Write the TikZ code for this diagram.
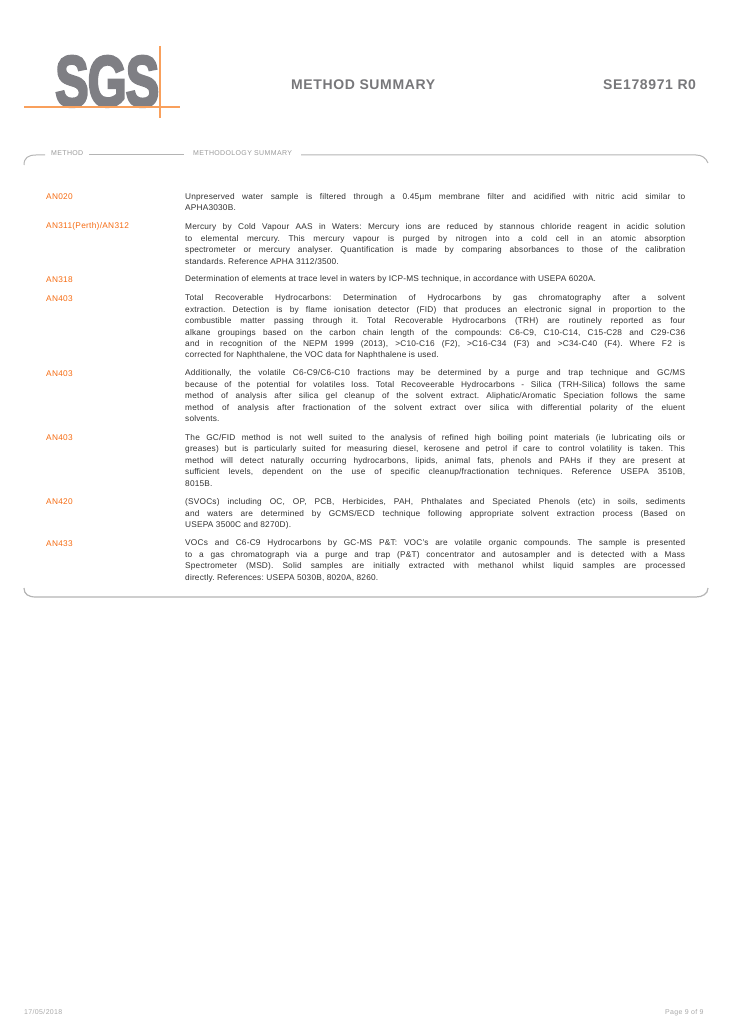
\documentclass[tikz,border=0pt]{standalone}
\usepackage{fontspec}
\usepackage{graphicx}
\setmainfont{Liberation Sans}[LetterSpace=2.3]
\newfontfamily\logofont[FakeBold=4,LetterSpace=-2]{Liberation Sans Bold}
\newfontfamily\headfont[LetterSpace=4.5]{Liberation Sans Bold}
\newfontfamily\codefont[LetterSpace=3.5]{Liberation Sans}
\newfontfamily\smallfont[LetterSpace=5]{Liberation Sans}
\definecolor{sgsorange}{HTML}{F56A10}
\definecolor{logoline}{HTML}{F9A05C}
\definecolor{sgsgray}{HTML}{7F7F84}
\definecolor{headgray}{HTML}{77777A}
\definecolor{framegray}{HTML}{B4B4B4}
\definecolor{labelgray}{HTML}{9A9A9A}
\definecolor{footgray}{HTML}{A8A8A8}
\definecolor{bodytext}{HTML}{303030}
\tikzset{
  code/.style={anchor=base west,inner sep=0pt,text=sgsorange,font=\fontsize{8.3}{9}\codefont},
  para/.style={anchor=north west,inner sep=0pt,text=bodytext,text width=500pt,align=justify,
    font=\fontsize{8.3}{11.45}\selectfont\frenchspacing},
  heading/.style={anchor=base west,inner sep=0pt,text=headgray,font=\fontsize{14}{16}\headfont},
  framelabel/.style={anchor=base west,inner sep=0pt,text=labelgray,font=\fontsize{7}{8}\smallfont},
  foot/.style={anchor=base west,inner sep=0pt,text=footgray,font=\fontsize{7}{8}\smallfont},
  frameline/.style={draw=framegray,line width=1pt},
  logorule/.style={draw=logoline,line width=1.2pt},
  logoruleh/.style={draw=logoline,line width=2pt}
}
\begin{document}
\begin{tikzpicture}[x=1pt,y=-1pt]
\useasboundingbox (0,0) rectangle (730,1032);
% logo
\node[anchor=south west,inner sep=0pt,text=sgsgray] (logo) at (55,107)
  {\resizebox{104pt}{50pt}{\logofont SGS}};
\coordinate (hl) at (24,107.5); \coordinate (hr) at (180,107.5);
\coordinate (vt) at (160,46); \coordinate (vb) at (160,118);
\draw[logoruleh] (hl) -- (hr);
\draw[logorule] (vt) -- (vb);
% headings
\node[heading] (title) at (291,90) {METHOD SUMMARY};
\node[heading] (ref) at (603,90) {SE178971 R0};
% frame
\node[framelabel] (lm) at (51,155.5) {METHOD};
\node[framelabel] (ls) at (193,155.5) {METHODOLOGY SUMMARY};
\coordinate (tl) at (24,165); \coordinate (tr) at (708,163);
\coordinate (bl) at (24,588); \coordinate (br) at (708,588);
\draw[frameline] (tl) .. controls (24,158) and (28,155) .. (36,155) -- (45,155);
\draw[frameline] (89,155) -- (184,155);
\draw[frameline] (301,155) -- (696,155) .. controls (702,155) and (706,158) .. (tr);
\draw[frameline,line width=1.2pt] (bl) .. controls (24,594) and (28,597) .. (36,597) -- (696,597) .. controls (702,597) and (708,594) .. (br);
% rows
\node[code] (c1) at (46,199.5) {AN020};
\node[para] (p1) at (185,193) {Unpreserved water sample is filtered through a 0.45µm membrane filter and acidified with nitric acid similar to\linebreak APHA3030B.};
\node[code] (c2) at (46,229) {AN311(Perth)/AN312};
\node[para] (p2) at (185,223.5) {Mercury by Cold Vapour AAS in Waters: Mercury ions are reduced by stannous chloride reagent in acidic solution\linebreak to elemental mercury. This mercury vapour is purged by nitrogen into a cold cell in an atomic absorption\linebreak spectrometer or mercury analyser. Quantification is made by comparing absorbances to those of the calibration\linebreak standards. Reference APHA 3112/3500.};
\node[code] (c3) at (46,282) {AN318};
\node[para] (p3) at (185,275.5) {Determination of elements at trace level in waters by ICP-MS technique, in accordance with USEPA 6020A.};
\node[code] (c4) at (46,301) {AN403};
\node[para] (p4) at (185,294.5) {Total Recoverable Hydrocarbons: Determination of Hydrocarbons by gas chromatography after a solvent\linebreak extraction. Detection is by flame ionisation detector (FID) that produces an electronic signal in proportion to the\linebreak combustible matter passing through it. Total Recoverable Hydrocarbons (TRH) are routinely reported as four\linebreak alkane groupings based on the carbon chain length of the compounds: C6-C9, C10-C14, C15-C28 and C29-C36\linebreak and in recognition of the NEPM 1999 (2013), >C10-C16 (F2), >C16-C34 (F3) and >C34-C40 (F4). Where F2 is\linebreak corrected for Naphthalene, the VOC data for Naphthalene is used.};
\node[code] (c5) at (46,376) {AN403};
\node[para] (p5) at (185,369.5) {Additionally, the volatile C6-C9/C6-C10 fractions may be determined by a purge and trap technique and GC/MS\linebreak because of the potential for volatiles loss. Total Recoveerable Hydrocarbons - Silica (TRH-Silica) follows the same\linebreak method of analysis after silica gel cleanup of the solvent extract. Aliphatic/Aromatic Speciation follows the same\linebreak method of analysis after fractionation of the solvent extract over silica with differential polarity of the eluent\linebreak solvents.};
\node[code] (c6) at (46,440) {AN403};
\node[para] (p6) at (185,434) {The GC/FID method is not well suited to the analysis of refined high boiling point materials (ie lubricating oils or\linebreak greases) but is particularly suited for measuring diesel, kerosene and petrol if care to control volatility is taken. This\linebreak method will detect naturally occurring hydrocarbons, lipids, animal fats, phenols and PAHs if they are present at\linebreak sufficient levels, dependent on the use of specific cleanup/fractionation techniques. Reference USEPA 3510B,\linebreak 8015B.};
\node[code] (c7) at (46,504) {AN420};
\node[para] (p7) at (185,498.5) {(SVOCs) including OC, OP, PCB, Herbicides, PAH, Phthalates and Speciated Phenols (etc) in soils, sediments\linebreak and waters are determined by GCMS/ECD technique following appropriate solvent extraction process (Based on\linebreak USEPA 3500C and 8270D).};
\node[code] (c8) at (46,546) {AN433};
\node[para] (p8) at (185,539.5) {VOCs and C6-C9 Hydrocarbons by GC-MS P\&T: VOC's are volatile organic compounds. The sample is presented\linebreak to a gas chromatograph via a purge and trap (P\&T) concentrator and autosampler and is detected with a Mass\linebreak Spectrometer (MSD). Solid samples are initially extracted with methanol whilst liquid samples are processed\linebreak directly. References: USEPA 5030B, 8020A, 8260.};
% footer
\node[foot] (d) at (24,1014) {17/05/2018};
\node[foot] (pg) at (665,1014) {Page 9 of 9};
\end{tikzpicture}
\end{document}
